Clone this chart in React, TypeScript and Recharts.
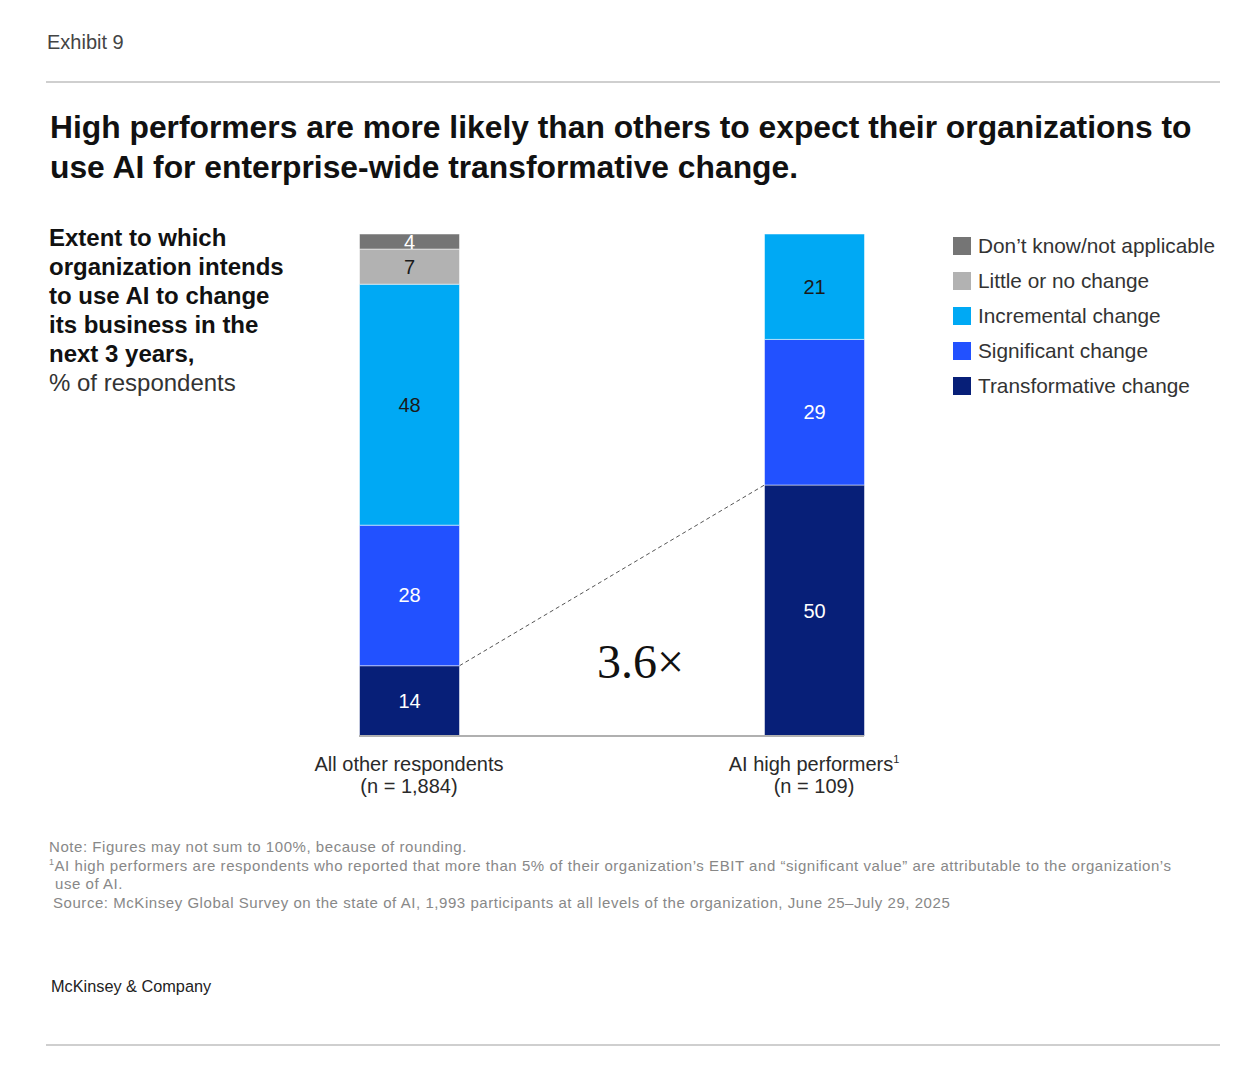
import { BarChart, Bar, XAxis, YAxis, LabelList, Rectangle } from 'recharts';

// groups on the x axis
const groups = ['All other respondents', 'AI high performers'];
const sampleSizes = ['(n = 1,884)', '(n = 109)'];
const footMarks = ['', '1'];

// % of respondents, bottom to top of each stack
const transformative = [14, 50];
const significant = [28, 29];
const incremental = [48, 21];
const littleOrNone = [7, null];
const dontKnow = [4, null];

const series = [
  { key: 'transformative', name: 'Transformative change', values: transformative, color: '#071f78', text: '#ffffff' },
  { key: 'significant', name: 'Significant change', values: significant, color: '#2251ff', text: '#ffffff' },
  { key: 'incremental', name: 'Incremental change', values: incremental, color: '#00a9f4', text: '#1a1a1a' },
  { key: 'little', name: 'Little or no change', values: littleOrNone, color: '#b2b2b2', text: '#1a1a1a' },
  { key: 'dontKnow', name: 'Don’t know/not applicable', values: dontKnow, color: '#757575', text: '#ffffff' },
];

const data = groups.map((group, i) => {
  const row: Record<string, any> = { group, n: sampleSizes[i], mark: footMarks[i] };
  series.forEach((s) => {
    row[s.key] = s.values[i];
  });
  return row;
});

const sans = '"Liberation Sans", Arial, sans-serif';

// top-right corner of the first transformative bar, used for the dashed link
const linkStart: { x?: number; y?: number } = {};

const TransformativeShape = (props: any) => {
  const { x, y, width, height, fill, stroke, strokeWidth, strokeOpacity } = props;
  const i = props.index ?? groups.indexOf(props.payload?.group);
  if (i === 0) {
    linkStart.x = x + width;
    linkStart.y = y;
  }
  return (
    <g>
      <Rectangle x={x} y={y} width={width} height={height} fill={fill} stroke={stroke} strokeWidth={strokeWidth} strokeOpacity={strokeOpacity} />
      {i === 1 && linkStart.x !== undefined && (
        <line x1={linkStart.x} y1={linkStart.y} x2={x} y2={y} stroke="#555" strokeWidth={1} strokeDasharray="4 3" />
      )}
    </g>
  );
};

const makeLabel = (color: string) => (props: any) => {
  const { x, y, width, height, value } = props;
  if (value === null || value === undefined || value === '') return null;
  return (
    <text
      x={x + width / 2}
      y={y + height / 2}
      fill={color}
      textAnchor="middle"
      dominantBaseline="central"
      fontSize={20}
      fontFamily={sans}
    >
      {value}
    </text>
  );
};

const GroupTick = (props: any) => {
  const { x, y, payload, index } = props;
  const i = index ?? groups.indexOf(payload.value);
  return (
    <g>
      <text x={x} y={y + 27} textAnchor="middle" fontSize={20} fill="#2a2a2a" fontFamily={sans}>
        {payload.value}
        {footMarks[i] && (
          <tspan dy={-8} fontSize={11}>
            {footMarks[i]}
          </tspan>
        )}
      </text>
      <text x={x} y={y + 49} textAnchor="middle" fontSize={20} fill="#2a2a2a" fontFamily={sans}>
        {sampleSizes[i]}
      </text>
    </g>
  );
};

export default function App() {
  return (
    <div style={{ position: 'relative', width: 1256, height: 1080, background: '#fff', fontFamily: sans, color: '#222' }}>
      <style>{'body{margin:0}'}</style>
      <div style={{ position: 'absolute', left: 47, top: 31, fontSize: 20, color: '#444' }}>Exhibit 9</div>
      <div style={{ position: 'absolute', left: 46, top: 81, width: 1174, height: 2, background: '#cfcfcf' }} />
      <div style={{ position: 'absolute', left: 50, top: 107, fontSize: 31.8, fontWeight: 700, lineHeight: '40px', color: '#111', whiteSpace: 'nowrap' }}>
        High performers are more likely than others to expect their organizations to
        <br />
        use AI for enterprise-wide transformative change.
      </div>
      <div style={{ position: 'absolute', left: 49, top: 223, fontSize: 24, lineHeight: '29px', color: '#111' }}>
        <div style={{ fontWeight: 700 }}>
          Extent to which
          <br />
          organization intends
          <br />
          to use AI to change
          <br />
          its business in the
          <br />
          next 3 years,
        </div>
        <div style={{ color: '#333' }}>% of respondents</div>
      </div>

      <div style={{ position: 'absolute', left: 300, top: 200 }}>
        <BarChart width={600} height={606} data={data} margin={{ top: 34, right: 36, left: 59, bottom: 0 }}>
          <XAxis
            dataKey="group"
            axisLine={{ stroke: '#b0b0b0', strokeWidth: 2 }}
            tickLine={false}
            tick={<GroupTick />}
            height={70}
            padding={{ left: -152.5, right: -152.5 }}
            interval={0}
          />
          <YAxis hide width={0} domain={[0, 100]} allowDataOverflow />
          {series.map((s) => (
            <Bar
              key={s.key}
              dataKey={s.key}
              name={s.name}
              stackId="a"
              fill={s.color}
              barSize={100}
              stroke="#ffffff"
              strokeWidth={1}
              strokeOpacity={0.5}
              isAnimationActive={false}
              shape={s.key === 'transformative' ? <TransformativeShape /> : undefined}
            >
              <LabelList dataKey={s.key} content={makeLabel(s.text)} />
            </Bar>
          ))}
        </BarChart>
      </div>

      <div style={{ position: 'absolute', left: 597, top: 634, fontSize: 48, fontFamily: '"Liberation Serif", serif', color: '#111' }}>3.6×</div>

      <div style={{ position: 'absolute', left: 953, top: 228 }}>
        {[...series].reverse().map((s) => (
          <div key={s.key} style={{ display: 'flex', alignItems: 'center', height: 35 }}>
            <div style={{ width: 18, height: 18, background: s.color, marginRight: 7 }} />
            <span style={{ fontSize: 20.8, color: '#333' }}>{s.name}</span>
          </div>
        ))}
      </div>

      <div style={{ position: 'absolute', left: 49, top: 838, fontSize: 15, letterSpacing: 0.55, lineHeight: '18.7px', color: '#888' }}>
        <div>Note: Figures may not sum to 100%, because of rounding.</div>
        <div>
          <sup style={{ fontSize: 9, lineHeight: 0 }}>1</sup>AI high performers are respondents who reported that more than 5% of their organization’s EBIT and “significant value” are attributable to the organization’s
        </div>
        <div style={{ paddingLeft: 6 }}>use of AI.</div>
        <div style={{ paddingLeft: 4 }}>Source: McKinsey Global Survey on the state of AI, 1,993 participants at all levels of the organization, June 25–July 29, 2025</div>
      </div>

      <div style={{ position: 'absolute', left: 51, top: 977, fontSize: 16.3, color: '#222' }}>McKinsey &amp; Company</div>
      <div style={{ position: 'absolute', left: 46, top: 1044, width: 1174, height: 2, background: '#cfcfcf' }} />
    </div>
  );
}
